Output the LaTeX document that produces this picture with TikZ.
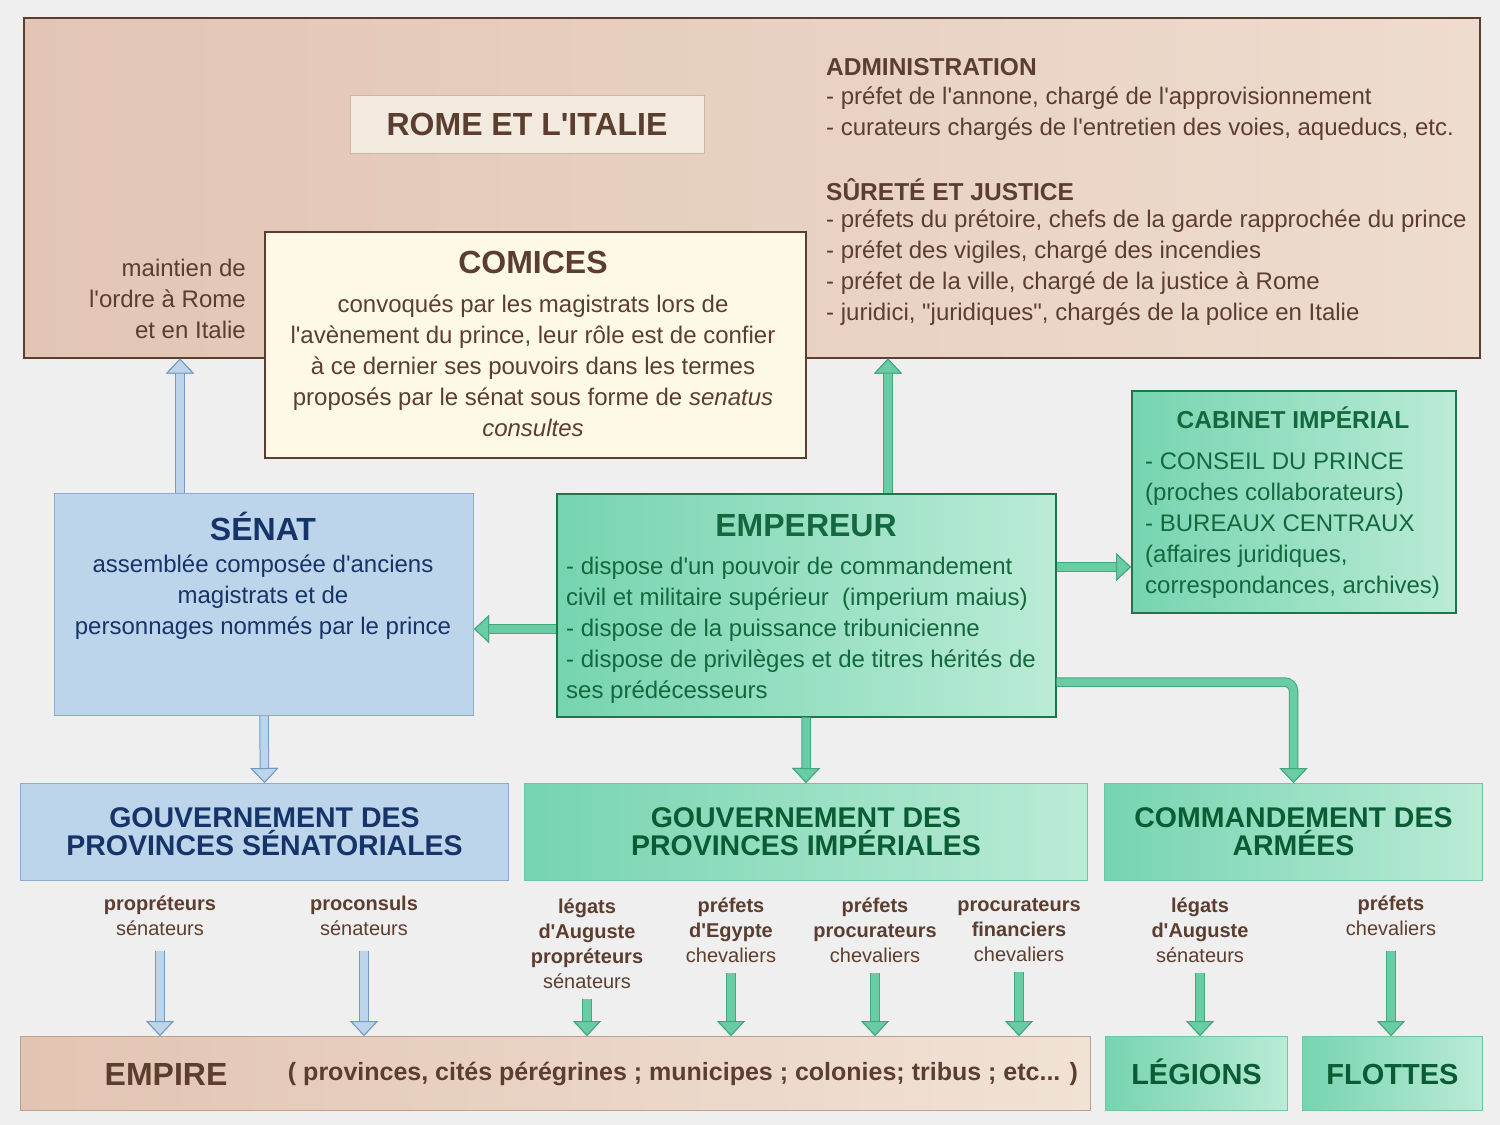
\documentclass[tikz,border=0pt]{standalone}
\usepackage{fontspec}
\newfontfamily\diagfont{Liberation Sans}
\usepackage{tikz}
\usetikzlibrary{arrows.meta, positioning, calc}
\definecolor{bggray}{RGB}{239,239,239}
\definecolor{romeleft}{RGB}{226,197,181}
\definecolor{romeright}{RGB}{238,220,206}
\definecolor{romebrown}{RGB}{92,62,48}
\definecolor{titlecream}{RGB}{242,234,222}
\definecolor{titleline}{RGB}{200,182,166}
\definecolor{comicescream}{RGB}{254,249,230}
\definecolor{senatblue}{RGB}{188,213,234}
\definecolor{senatline}{RGB}{138,172,206}
\definecolor{senatnavy}{RGB}{22,52,105}
\definecolor{empleft}{RGB}{118,212,176}
\definecolor{empright}{RGB}{186,235,214}
\definecolor{empline}{RGB}{28,118,74}
\definecolor{empgreen}{RGB}{20,104,62}
\definecolor{govgreen}{RGB}{10,92,52}
\definecolor{govline}{RGB}{112,198,162}
\definecolor{arrowgreen}{RGB}{104,204,164}
\definecolor{arrowgreenline}{RGB}{68,166,126}
\definecolor{arrowblue}{RGB}{188,213,234}
\definecolor{arrowblueline}{RGB}{116,154,196}
\definecolor{empireleft}{RGB}{226,196,178}
\definecolor{empireright}{RGB}{241,226,214}
\definecolor{empireline}{RGB}{185,160,145}

\begin{document}
\begin{tikzpicture}[x=1pt, y=-1pt,
    box/.style={anchor=north west, inner sep=0pt},
    romebox/.style={box, draw=romebrown, line width=1.5pt, left color=romeleft, right color=romeright},
    comicesbox/.style={box, draw=romebrown, line width=1.5pt, fill=comicescream},
    senatbox/.style={box, draw=senatline, line width=1pt, fill=senatblue},
    empbox/.style={box, draw=empline, line width=1.5pt, left color=empleft, right color=empright},
    govbox/.style={box, draw=govline, line width=1pt, left color=empleft, right color=empright},
    empirebox/.style={box, draw=empireline, line width=1pt, left color=empireleft, right color=empireright},
    txt/.style={inner sep=0pt, font=\diagfont\fontsize{24}{31}\selectfont},
    bigtitle/.style={inner sep=0pt, font=\diagfont\fontsize{32}{36}\selectfont\bfseries},
    head/.style={inner sep=0pt, text=romebrown, font=\diagfont\fontsize{24.5}{30}\selectfont\bfseries},
    govtxt/.style={align=center, font=\diagfont\fontsize{28.5}{28}\selectfont\bfseries},
    basetxt/.style={text=govgreen, font=\diagfont\fontsize{29}{32}\selectfont\bfseries, text height=21pt, text depth=0pt},
    lbl/.style={inner sep=0pt, align=center, text=romebrown, font=\diagfont\fontsize{20}{25}\selectfont},
    fatarrow/.style 2 args={line width=7.5pt, draw=#1, preaction={draw=#2, line width=9.5pt},
        -{Triangle[width=28pt, length=15pt, fill=#1, color=#2, line width=1pt]}},
    greenarrow/.style={fatarrow={arrowgreen}{arrowgreenline}},
    bluearrow/.style={fatarrow={arrowblue}{arrowblueline}}
]
\fill[bggray] (0,0) rectangle (1500,1125);
\useasboundingbox (0,0) rectangle (1500,1125);

% Rome et l'Italie
\node[romebox, minimum width=1456pt, minimum height=340pt] (rome) at (23,17) {};
\node[box, anchor=center, draw=titleline, line width=0.8pt, fill=titlecream, minimum width=354pt, minimum height=58pt,
      text=romebrown, font=\diagfont\fontsize{32}{36}\selectfont\bfseries] (rometitle) at (527,124) {ROME ET L'ITALIE};
\node[head, anchor=west] (admin) at (826,67) {ADMINISTRATION};
\node[txt, text=romebrown, anchor=west, align=left] (adminlist) at (826,114)
    {- préfet de l'annone, chargé de l'approvisionnement\\- curateurs chargés de l'entretien des voies, aqueducs, etc.};
\node[head, anchor=west] (surete) at (826,190) {SÛRETÉ ET JUSTICE};
\node[txt, text=romebrown, anchor=west, align=left] (suretelist) at (826,268)
    {- préfets du prétoire, chefs de la garde rapprochée du prince\\- préfet des vigiles, chargé des incendies\\- préfet de la ville, chargé de la justice à Rome\\- juridici, "juridiques", chargés de la police en Italie};
\node[txt, text=romebrown, anchor=east, align=right] (maintien) at (246,299) {maintien de\\l'ordre à Rome\\et en Italie};

% Comices
\node[comicesbox, minimum width=541pt, minimum height=226pt] (comices) at (264,231) {};
\node[bigtitle, text=romebrown] (comicestitle) at (533,262) {COMICES};
\node[txt, text=romebrown, align=center] (comicestxt) at (533,366)
    {convoqués par les magistrats lors de\\l'avènement du prince, leur rôle est de confier\\à ce dernier ses pouvoirs dans les termes\\proposés par le sénat sous forme de \textit{senatus}\\\textit{consultes}};

% Senat
\node[senatbox, minimum width=419pt, minimum height=222pt] (senat) at (54,493) {};
\node[bigtitle, text=senatnavy] (senattitle) at (263,526) {SÉNAT};
\node[txt, text=senatnavy, align=center] (senattxt) at (263,597)
    {assemblée composée d'anciens\\magistrats et de\\personnages nommés par le prince};

% Empereur
\node[empbox, minimum width=499pt, minimum height=223pt] (emp) at (556,493) {};
\node[bigtitle, text=empgreen] (emptitle) at (806,526) {EMPEREUR};
\node[txt, text=empgreen, anchor=west, align=left] (emptxt) at (566,630)
    {- dispose d'un pouvoir de commandement\\civil et militaire supérieur~ (imperium maius)\\- dispose de la puissance tribunicienne\\- dispose de privilèges et de titres hérités de\\ses prédécesseurs};

% Cabinet imperial
\node[empbox, minimum width=324pt, minimum height=222pt] (cabinet) at (1131,390) {};
\node[head, text=empgreen] (cabtitle) at (1293,418) {CABINET IMPÉRIAL};
\node[txt, text=empgreen, anchor=west, align=left] (cabtxt) at (1145,526)
    {- CONSEIL DU PRINCE\\(proches collaborateurs)\\- BUREAUX CENTRAUX\\(affaires juridiques,\\correspondances, archives)};

% gouvernements
\node[senatbox, govtxt, text=senatnavy, minimum width=488pt, minimum height=97pt] (gouvsen) at (20,783) {GOUVERNEMENT DES\\PROVINCES SÉNATORIALES};
\node[govbox, govtxt, text=govgreen, minimum width=563pt, minimum height=97pt] (gouvimp) at (524,783) {GOUVERNEMENT DES\\PROVINCES IMPÉRIALES};
\node[govbox, govtxt, text=govgreen, minimum width=378pt, minimum height=97pt] (armees) at (1104,783) {COMMANDEMENT DES\\ARMÉES};

% titulaires
\node[lbl] (propr) at (160,915.5) {\textbf{propréteurs}\\sénateurs};
\node[lbl] (procons) at (364,915.5) {\textbf{proconsuls}\\sénateurs};
\node[lbl] (legats) at (587,944) {\textbf{légats}\\\textbf{d'Auguste}\\\textbf{propréteurs}\\sénateurs};
\node[lbl] (prefeg) at (731,930) {\textbf{préfets}\\\textbf{d'Egypte}\\chevaliers};
\node[lbl] (prefproc) at (875,930) {\textbf{préfets}\\\textbf{procurateurs}\\chevaliers};
\node[lbl] (procfin) at (1019,930) {\textbf{procurateurs}\\\textbf{financiers}\\chevaliers};
\node[lbl] (legatsarm) at (1200,930) {\textbf{légats}\\\textbf{d'Auguste}\\sénateurs};
\node[lbl] (prefflot) at (1391,915.5) {\textbf{préfets}\\chevaliers};

% Empire, legions, flottes
\node[empirebox, minimum width=1070pt, minimum height=74pt] (empire) at (20,1036) {};
\node[bigtitle, text=romebrown] (empiretitle) at (166,1074) {EMPIRE};
\node[inner sep=0pt, text=romebrown, font=\diagfont\fontsize{25}{28}\selectfont\bfseries] (empirelist) at (683,1074)
    {( provinces, cités pérégrines ; municipes ; colonies; tribus ; etc... )};
\node[govbox, basetxt, minimum width=182pt, minimum height=74pt] (legions) at (1105,1036) {LÉGIONS};
\node[govbox, basetxt, minimum width=180pt, minimum height=74pt] (flottes) at (1302,1036) {FLOTTES};

% fleches
\coordinate (senatup) at ([xshift=126pt]senat.north west);
\coordinate (empup) at ([xshift=332pt]emp.north west);
\coordinate (empleftc) at ([yshift=-136pt]emp.north west);
\coordinate (emprightc) at ([yshift=-74pt]emp.north east);
\coordinate (emparmc) at ([yshift=-189pt]emp.north east);
\draw[bluearrow] (senatup) -- (senatup |- rome.south);
\draw[bluearrow] (senat.south) -- (gouvsen.north);
\draw[greenarrow] (empup) -- (empup |- rome.south);
\draw[greenarrow] (empleftc) -- (empleftc -| senat.east);
\draw[greenarrow] (emprightc) -- (emprightc -| cabinet.west);
\draw[greenarrow, rounded corners=9pt] (emparmc) -| (armees.north);
\draw[greenarrow] (emp.south) -- (gouvimp.north);

\draw[bluearrow] ([yshift=-15pt]propr.south) -- (propr.south |- empire.north);
\draw[bluearrow] ([yshift=-15pt]procons.south) -- (procons.south |- empire.north);
\draw[greenarrow] ([yshift=-10pt]legats.south) -- (legats.south |- empire.north);
\foreach \lb in {prefeg, prefproc, procfin}
    \draw[greenarrow] ([yshift=-10pt]\lb.south) -- (\lb.south |- empire.north);
\draw[greenarrow] ([yshift=-10pt]legatsarm.south) -- (legatsarm.south |- legions.north);
\draw[greenarrow] ([yshift=-15pt]prefflot.south) -- (prefflot.south |- flottes.north);
\end{tikzpicture}
\end{document}
